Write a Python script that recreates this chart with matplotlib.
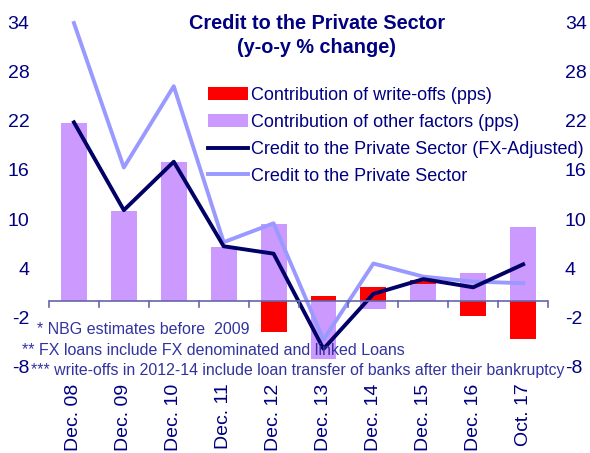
import numpy as np
import matplotlib.pyplot as plt

plt.rcParams['font.family'] = ['Liberation Sans', 'DejaVu Sans']
plt.rcParams['axes.unicode_minus'] = False

# data
labels = ['Dec. 08', 'Dec. 09', 'Dec. 10', 'Dec. 11', 'Dec. 12',
          'Dec. 13', 'Dec. 14', 'Dec. 15', 'Dec. 16', 'Oct. 17']
write_offs = [0.0, 0.0, 0.0, 0.0, -3.7, 0.7, 1.7, 0.5, -1.8, -4.6]
other_factors = [21.7, 11.0, 17.0, 6.6, 9.4, -7.0, -0.9, 2.1, 3.5, 9.1]
credit_fx_adj = [21.8, 11.1, 17.0, 6.7, 5.8, -5.8, 0.9, 2.7, 1.7, 4.5]
credit_total = [33.9, 16.3, 26.2, 7.2, 9.5, -4.7, 4.6, 3.0, 2.4, 2.2]
yticks = [-8, -2, 4, 10, 16, 22, 28, 34]

navy = '#000080'
red = '#ff0000'
purple = '#cc99ff'
dark_line = '#000066'
light_line = '#9999ff'
foot_col = '#3333a0'

x = np.arange(len(labels))
wo = np.array(write_offs)
of = np.array(other_factors)

# stacking: positive parts go up from 0, negative parts go down from 0
pos_base = np.zeros(len(x))
neg_base = np.zeros(len(x))

fig = plt.figure(figsize=(5.9, 4.53), dpi=100)
ax = fig.add_axes([0.083, 0.19, 0.846, 0.761])

of_bottom = np.where(of >= 0, pos_base, neg_base)
b_of = ax.bar(x, of, 0.52, bottom=of_bottom, color=purple, zorder=2)
pos_base = pos_base + np.where(of > 0, of, 0)
neg_base = neg_base + np.where(of < 0, of, 0)
wo_bottom = np.where(wo >= 0, pos_base, neg_base)
b_wo = ax.bar(x, wo, 0.52, bottom=wo_bottom, color=red, zorder=2)

l_fx, = ax.plot(x, credit_fx_adj, color=dark_line, lw=2.8, zorder=4, clip_on=False)
l_tot, = ax.plot(x, credit_total, color=light_line, lw=2.8, zorder=3, clip_on=False)

ax.set_xlim(-0.5, len(x) - 0.5)
ax.set_ylim(-8, 34)

# axis line at zero with ticks at category boundaries
ax.axhline(0, color='#6666aa', lw=1.2, zorder=5)
for b in np.arange(len(x) + 1) - 0.5:
    ax.plot([b, b], [0, -0.75], color='#6666aa', lw=1.2, zorder=5, clip_on=False)

for s in ax.spines.values():
    s.set_visible(False)

ax.set_xticks(x)
ax.set_xticklabels(labels, rotation=90, fontsize=14, color=navy)
ax.tick_params(axis='x', length=0, pad=12)
ax.set_yticks(yticks)
ax.tick_params(axis='y', length=0, labelsize=14, labelcolor=navy, pad=14)

ax2 = ax.secondary_yaxis('right')
ax2.set_yticks(yticks)
ax2.tick_params(length=0, labelsize=14, labelcolor=navy, pad=12)
ax2.spines['right'].set_visible(False)

fig.text(0.537, 0.969, 'Credit to the Private Sector\n(y-o-y % change)', ha='center', va='top',
         fontsize=14.3, fontweight='bold', color=navy, linespacing=1.3)

leg = ax.legend([b_wo, b_of, l_fx, l_tot],
                ['Contribution of write-offs (pps)', 'Contribution of other factors (pps)',
                 'Credit to the Private Sector (FX-Adjusted)', 'Credit to the Private Sector'],
                loc='upper left', bbox_to_anchor=(0.319, 0.812), frameon=False, fontsize=13,
                handlelength=2.2, handletextpad=0.15, labelspacing=0.55,
                borderaxespad=0, borderpad=0)
for t in leg.get_texts():
    t.set_color(navy)

fig.text(0.063, 0.273, '* NBG estimates before  2009', fontsize=11.5, color=foot_col, va='center')
fig.text(0.037, 0.227, '** FX loans include FX denominated and linked Loans', fontsize=11.5, color=foot_col, va='center')
fig.text(0.053, 0.183, '*** write-offs in 2012-14 include loan transfer of banks after their bankruptcy',
         fontsize=11.4, color=foot_col, va='center')

fig.savefig('out.png', dpi=100)
